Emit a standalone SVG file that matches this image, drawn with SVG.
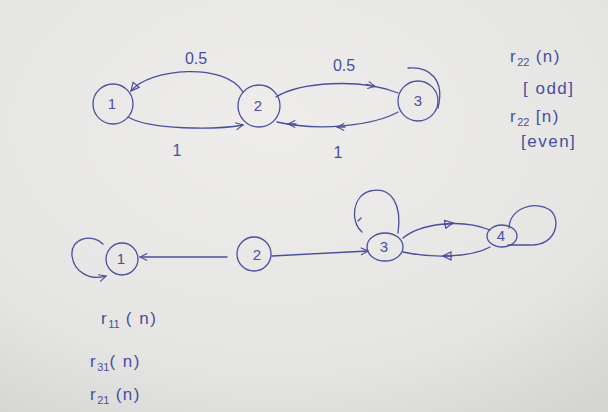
<svg xmlns="http://www.w3.org/2000/svg" width="608" height="412" viewBox="0 0 608 412">
<defs>
<radialGradient id="paper" cx="0.45" cy="0.3" r="0.85">
<stop offset="0" stop-color="#eeedec"/>
<stop offset="0.7" stop-color="#e5e5e3"/>
<stop offset="1" stop-color="#d5d5d3"/>
</radialGradient>
<marker id="open" viewBox="0 0 10 10" refX="9" refY="5" markerWidth="9" markerHeight="9" orient="auto" markerUnits="userSpaceOnUse">
<path d="M1,1 L9,5 L1,9" fill="none" stroke="#4a4e9e" stroke-width="1.2"/>
</marker>
<marker id="tri" viewBox="0 0 10 10" refX="9" refY="5" markerWidth="10" markerHeight="10" orient="auto" markerUnits="userSpaceOnUse">
<path d="M1,1 L9,5 L1,9 Z" fill="none" stroke="#4a4e9e" stroke-width="1.2"/>
</marker>
</defs>
<style>
.ink{fill:none;stroke:#4a4e9e;stroke-width:1.3;stroke-linecap:round}
.t{font-family:"Liberation Sans",Arial,sans-serif;fill:#4a4e9e;font-size:17px;letter-spacing:1.5px}
.lab{font-family:"Liberation Sans",Arial,sans-serif;fill:#4a4e9e;font-size:15px;text-anchor:middle}
.sub{font-size:11px;letter-spacing:0}
</style>
<rect width="608" height="412" fill="url(#paper)"/>

<g id="connectors">
<!-- top -->
<path class="ink" d="M243,92 C225,62 150,68 131,91" marker-end="url(#tri)"/>
<path class="ink" d="M128,117 C150,130 215,130 243,125" marker-end="url(#open)"/>
<path class="ink" d="M276,97 C300,82 360,78 398,93"/>
<path class="ink" d="M366,84.5 L375,86.5" marker-end="url(#open)"/>
<path class="ink" d="M398,112 C375,125 320,132 277,122"/>
<path class="ink" d="M345,127 L337,127" marker-end="url(#open)"/>
<path class="ink" d="M296,124 L288,124" marker-end="url(#open)"/>
<path class="ink" d="M408,68 C430,66 445,80 438,108"/>
<!-- bottom -->
<path class="ink" d="M103,244 C92,233 70,238 72,256 C74,272 90,281 106,276" marker-end="url(#open)"/>
<path class="ink" d="M227,257 L140,257" marker-end="url(#open)"/>
<path class="ink" d="M272,256 L368,251" marker-end="url(#open)"/>
<path class="ink" d="M362,232 C350,222 352,196 370,191 C392,186 402,205 398,233"/>
<path class="ink" d="M361,218 L358,221"/>
<path class="ink" d="M403,238 C420,224 460,218 490,230"/>
<path class="ink" d="M444,224.5 L453,223" marker-end="url(#tri)"/>
<path class="ink" d="M490,247 C470,258 430,258 403,252"/>
<path class="ink" d="M452,256 L443,256" marker-end="url(#tri)"/>
<path class="ink" d="M509,228 C510,208 535,200 550,210 C562,220 556,246 530,245 L508,245"/>
</g>

<g id="top-node-1"><circle class="ink" cx="113" cy="104" r="20"/><text class="lab" x="112" y="109">1</text></g>
<g id="top-node-2"><circle class="ink" cx="259" cy="106" r="21"/><text class="lab" x="258" y="111">2</text></g>
<g id="top-node-3"><circle class="ink" cx="418" cy="101" r="20"/><text class="lab" x="418" y="106">3</text></g>

<g id="bot-node-1"><circle class="ink" cx="122" cy="259" r="16"/><text class="lab" x="121" y="264">1</text></g>
<g id="bot-node-2"><circle class="ink" cx="254" cy="254" r="17"/><text class="lab" x="257" y="260">2</text></g>
<g id="bot-node-3"><ellipse class="ink" cx="385" cy="247" rx="18" ry="14"/><text class="lab" x="384" y="252">3</text></g>
<g id="bot-node-4"><ellipse class="ink" cx="502" cy="236" rx="15" ry="11"/><text class="lab" x="501" y="241">4</text></g>

<g id="labels">
<text class="lab" x="196" y="64" style="font-size:16px">0.5</text>
<text class="lab" x="344" y="71" style="font-size:16px">0.5</text>
<text class="lab" x="177" y="156" style="font-size:16px">1</text>
<text class="lab" x="338" y="158" style="font-size:16px">1</text>

<text class="t" x="510" y="62">r<tspan class="sub" dy="4">22</tspan><tspan dy="-4"> (n)</tspan></text>
<text class="t" x="523" y="94">[ odd]</text>
<text class="t" x="510" y="122">r<tspan class="sub" dy="4">22</tspan><tspan dy="-4"> [n)</tspan></text>
<text class="t" x="521" y="147">[even]</text>

<text class="t" x="101" y="324">r<tspan class="sub" dy="4">11</tspan><tspan dy="-4"> ( n)</tspan></text>
<text class="t" x="90" y="367">r<tspan class="sub" dy="4">31</tspan><tspan dy="-4">( n)</tspan></text>
<text class="t" x="90" y="400">r<tspan class="sub" dy="4">21</tspan><tspan dy="-4"> (n)</tspan></text>
</g>
</svg>
